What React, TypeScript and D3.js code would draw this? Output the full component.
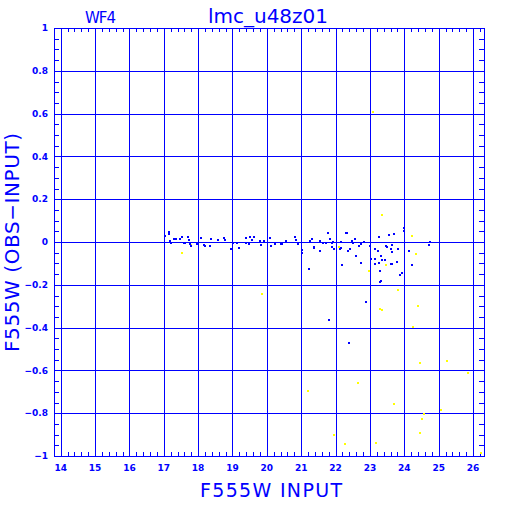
import * as d3 from "d3";
import { useEffect, useRef } from "react";

// tick values and labels
const xTicks = [14, 15, 16, 17, 18, 19, 20, 21, 22, 23, 24, 25, 26];
const yTicks = [1, 0.8, 0.6, 0.4, 0.2, 0, -0.2, -0.4, -0.6, -0.8, -1];
const yTickLabels = ["1", "0.8", "0.6", "0.4", "0.2", "0", "\u22120.2", "\u22120.4", "\u22120.6", "\u22120.8", "\u22121"];

// blue stars: input magnitude / (obs - input)
const blueMag = [
  17.03, 17.14, 17.14, 17.17, 17.22, 17.29, 17.37, 17.46, 17.54, 17.59, 17.63, 17.7, 17.73, 17.75, 17.8,
  17.96, 18.09, 18.17, 18.19, 18.34, 18.37, 18.58, 18.75, 18.79, 18.95, 19.02, 19.13, 19.2, 19.4, 19.4,
  19.47, 19.52, 19.56, 19.62, 19.79, 19.84, 19.92, 20.1, 20.11, 20.23, 20.4, 20.44, 20.55, 20.81, 20.85,
  20.91, 21.02, 21.02, 21.24, 21.27, 21.3, 21.37, 21.38, 21.54, 21.54, 21.63, 21.71, 21.79, 21.8, 21.83,
  21.9, 21.91, 21.93, 21.95, 22.12, 22.17, 22.17, 22.18, 22.29, 22.33, 22.36, 22.38, 22.43, 22.47, 22.51,
  22.56, 22.59, 22.68, 22.73, 22.75, 22.83, 22.9, 23.01, 23.04, 23.14, 23.16, 23.16, 23.23, 23.25, 23.26,
  23.28, 23.3, 23.31, 23.33, 23.35, 23.44, 23.48, 23.5, 23.55, 23.6, 23.61, 23.63, 23.64, 23.65, 23.71,
  23.79, 23.82, 23.87, 23.92, 23.98, 24.0, 24.13, 24.23, 24.71, 24.76,
];
const blueDiff = [
  0.03, 0.045, 0.038, 0.006, -0.006, 0.013, 0.013, 0.015, 0.025, -0.006, -0.006, 0.025, 0.009, -0.009, -0.019,
  -0.01, 0.02, -0.015, -0.019, -0.019, 0.014, 0.009, 0.017, 0.009, -0.031, -0.006, -0.006, -0.026, 0.017, -0.006,
  -0.009, 0.025, 0.009, 0.025, 0.005, -0.014, 0.005, 0.02, -0.017, -0.009, -0.011, -0.011, 0.005, 0.025, 0.009,
  -0.009, -0.037, -0.05, -0.126, 0.006, 0.012, -0.028, -0.022, 0.005, -0.041, -0.006, -0.006, 0.044, -0.364, 0.014,
  -0.006, -0.025, 0.0, -0.033, -0.031, 0.001, -0.03, -0.106, 0.042, 0.044, -0.042, -0.47, -0.031, 0.006, -0.006,
  0.016, -0.065, -0.017, -0.098, -0.011, 0.0, -0.28, -0.019, -0.078, -0.101, -0.078, -0.031, -0.042, -0.098, 0.023,
  -0.185, -0.137, -0.067, -0.18, -0.083, -0.083, -0.017, -0.022, 0.033, -0.033, -0.101, -0.045, -0.015, -0.101, 0.039,
  -0.092, -0.033, -0.154, -0.145, 0.053, 0.067, -0.042, -0.107, -0.014, -0.001,
];

// yellow stars
const yellowMag = [
  17.52, 17.8, 19.85, 21.19, 21.94, 22.09, 22.26, 22.65, 22.98, 23.09, 23.17, 23.28, 23.34, 23.34, 23.48,
  23.69, 23.81, 24.22, 24.25, 24.33, 24.39, 24.45, 24.47, 24.51, 24.56, 25.07, 25.24, 25.85, 26.22,
];
const yellowDiff = [
  -0.051, -0.012, -0.243, -0.695, -0.9, -0.022, -0.943, -0.657, -0.135, 0.607, -0.938, -0.312, -0.316, 0.128, -0.107,
  -0.759, -0.224, 0.03, -0.399, -0.056, -0.299, -0.567, -0.891, -0.826, -0.804, -0.785, -0.555, -0.611, -0.985,
];

const BLUE = "#0000ff";
const YELLOW = "#ffff00";

const App = () => {
  const svgRef = useRef<SVGSVGElement | null>(null);
  const width = 512;
  const height = 512;

  useEffect(() => {
    if (!svgRef.current) return;
    const svg = d3.select(svgRef.current);
    svg.selectAll("*").remove();

    const left = 54, right = 484, top = 28, bottom = 456;

    const x = d3.scaleLinear().domain([13.805, 26.32]).range([left, right]);
    const y = d3.scaleLinear().domain([-1, 1]).range([bottom, top]);
    const px = (v: number) => Math.round(x(v)) + 0.5;
    const py = (v: number) => Math.round(y(v)) + 0.5;

    svg.append("rect").attr("width", width).attr("height", height).attr("fill", "#fff");

    // grid
    const grid = svg.append("g").attr("stroke", BLUE).attr("stroke-width", 1).attr("shape-rendering", "crispEdges");
    grid.selectAll(".vx").data(xTicks).enter().append("line")
      .attr("x1", (d) => px(d)).attr("x2", (d) => px(d))
      .attr("y1", top).attr("y2", bottom);
    grid.selectAll(".hy").data(yTicks.filter((d) => Math.abs(d) < 1)).enter().append("line")
      .attr("x1", left).attr("x2", right)
      .attr("y1", (d) => py(d)).attr("y2", (d) => py(d));

    // minor ticks
    const xMinor = d3.range(69, 132).map((i) => i / 5).filter((d) => d > 13.805 && d < 26.32);
    const yMinor = d3.range(-19, 20).map((i) => i / 20);
    xMinor.forEach((d) => {
      grid.append("line").attr("x1", px(d)).attr("x2", px(d)).attr("y1", top).attr("y2", top + 4);
      grid.append("line").attr("x1", px(d)).attr("x2", px(d)).attr("y1", bottom - 4).attr("y2", bottom);
    });
    yMinor.forEach((d) => {
      grid.append("line").attr("x1", left).attr("x2", left + 5).attr("y1", py(d)).attr("y2", py(d));
      grid.append("line").attr("x1", right - 5).attr("x2", right).attr("y1", py(d)).attr("y2", py(d));
    });

    // frame
    grid.append("rect").attr("x", left + 0.5).attr("y", top + 0.5)
      .attr("width", right - left).attr("height", bottom - top).attr("fill", "none");

    // points
    const dot = (g: d3.Selection<SVGGElement, unknown, null, undefined>, xs: number[], ys: number[], c: string) =>
      g.selectAll("rect").data(xs.map((v, i) => [v, ys[i]])).enter().append("rect")
        .attr("x", (d) => Math.round(x(d[0])) - 1)
        .attr("y", (d) => Math.round(y(d[1])) - 1)
        .attr("width", 2).attr("height", 2).attr("fill", c);
    dot(svg.append("g").attr("shape-rendering", "crispEdges"), yellowMag, yellowDiff, YELLOW);
    dot(svg.append("g").attr("shape-rendering", "crispEdges"), blueMag, blueDiff, BLUE);

    // tick labels
    const font = "DejaVu Sans, sans-serif";
    svg.append("g").selectAll("text").data(xTicks).enter().append("text")
      .attr("x", (d) => x(d)).attr("y", 471)
      .attr("text-anchor", "middle").attr("font-family", font).attr("font-size", 9)
      .attr("font-weight", "bold").attr("fill", BLUE).text((d) => d);
    svg.append("g").selectAll("text").data(yTicks).enter().append("text")
      .attr("x", 48).attr("y", (d) => y(d)).attr("dy", "0.36em")
      .attr("text-anchor", "end").attr("font-family", font).attr("font-size", 9)
      .attr("font-weight", "bold").attr("fill", BLUE).text((_, i) => yTickLabels[i]);

    // titles
    svg.append("text").attr("x", 85).attr("y", 23).attr("font-family", font).attr("font-size", 15)
      .attr("fill", BLUE).attr("textLength", 31).text("WF4");
    svg.append("text").attr("x", 268).attr("y", 23).attr("text-anchor", "middle").attr("font-family", font)
      .attr("font-size", 20).attr("fill", BLUE).text("lmc_u48z01");
    svg.append("text").attr("x", 200).attr("y", 497).attr("font-family", font)
      .attr("font-size", 19).attr("fill", BLUE)
      .attr("textLength", 142).attr("lengthAdjust", "spacing").text("F555W INPUT");
    svg.append("text").attr("transform", "translate(19,352) rotate(-90)").attr("font-family", font)
      .attr("font-size", 20).attr("fill", BLUE)
      .attr("textLength", 219).attr("lengthAdjust", "spacing").text("F555W (OBS\u2212INPUT)");
  }, []);

  return (
    <svg
      ref={svgRef}
      width={width}
      height={height}
      style={{ position: "absolute", left: 0, top: 0, display: "block" }}
    />
  );
};

export default App;
